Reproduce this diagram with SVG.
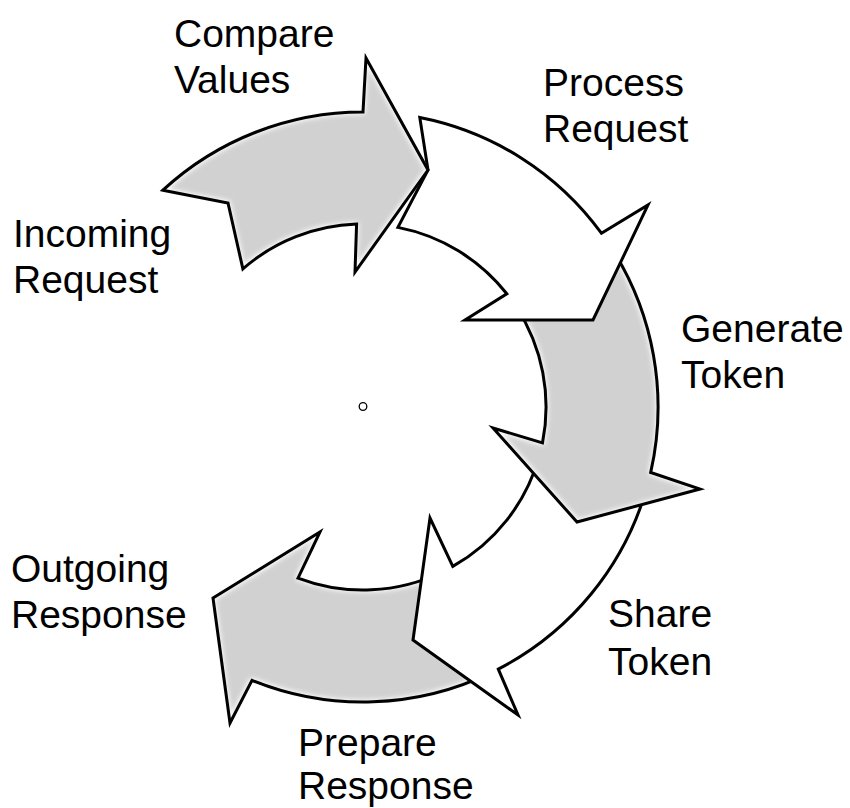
<svg xmlns="http://www.w3.org/2000/svg" xmlns:xlink="http://www.w3.org/1999/xlink" width="850" height="808" viewBox="0 0 850 808">
<style>
  .lbl { font-family: "Liberation Sans", Arial, sans-serif; font-size: 39px; fill: #000; }
  .outline { fill: none; stroke: #000; stroke-width: 3; stroke-linejoin: miter; stroke-miterlimit: 10; }
  .gray { fill: #d1d1d1; filter: url(#glow); }
  .white { fill: #ffffff; }
</style>
<defs>
  <filter id="glow" x="-3%" y="-3%" width="106%" height="106%" color-interpolation-filters="sRGB">
    <feMorphology in="SourceAlpha" operator="erode" radius="2" result="er"/>
    <feGaussianBlur in="er" stdDeviation="2.5" result="bl"/>
    <feFlood flood-color="#d1d1d1" result="gc"/>
    <feComposite in="gc" in2="bl" operator="in" result="core"/>
    <feFlood flood-color="#ffffff" result="wc"/>
    <feComposite in="wc" in2="SourceAlpha" operator="in" result="base"/>
    <feMerge><feMergeNode in="base"/><feMergeNode in="core"/></feMerge>
  </filter>
  <path id="p5" d="M 492.3,672.1 L 445,632.5 L 443.2,571.5 A 183 183 0 0 1 298,578.1 L 320,532 L 213,598 L 230,723 L 252,680.3 A 295 295 0 0 0 492.3,672.1 Z"/>
  <path id="p4" d="M 646.6,488.3 L 585.5,496.9 L 538.9,457.4 A 183 183 0 0 1 452.8,566.4 L 430,518 L 413,640 L 518,715 L 498.3,669.1 A 295 295 0 0 0 646.6,488.3 Z"/>
  <path id="p3" d="M 610.4,246.3 L 575,305 L 516.5,307.3 A 183 183 0 0 1 542.5,442.9 L 493,428 L 577,522 L 700,489 L 650.7,472.4 A 295 295 0 0 0 610.4,246.3 Z"/>
  <path id="p2" d="M 419.8,117.5 L 428,170 L 397.9,227.4 A 183 183 0 0 1 506.8,293.8 L 465,320 L 593,320 L 648,205 L 601.4,233.2 A 295 295 0 0 0 419.8,117.5 Z"/>
  <path id="p1" d="M 162.9,190.2 L 228,203 L 242.9,268.9 A 183 183 0 0 1 356.6,224.1 L 355,272 L 428,170 L 366,58 L 363,112 A 295 295 0 0 0 162.9,190.2 Z"/>
</defs>

<g id="arrow-prepare-response">
  <use xlink:href="#p5" href="#p5" class="gray"/>
  <use xlink:href="#p5" href="#p5" class="outline"/>
</g>
<g id="arrow-share-token">
  <use xlink:href="#p4" href="#p4" class="white"/>
  <use xlink:href="#p4" href="#p4" class="outline"/>
</g>
<g id="arrow-generate-token">
  <use xlink:href="#p3" href="#p3" class="gray"/>
  <use xlink:href="#p3" href="#p3" class="outline"/>
</g>
<g id="arrow-process-request">
  <use xlink:href="#p2" href="#p2" class="white"/>
  <use xlink:href="#p2" href="#p2" class="outline"/>
</g>
<g id="arrow-compare-values">
  <use xlink:href="#p1" href="#p1" class="gray"/>
  <use xlink:href="#p1" href="#p1" class="outline"/>
</g>

<g id="center">
  <circle cx="363" cy="406.5" r="3.8" fill="#fff" stroke="#000" stroke-width="1.3"/>
</g>

<g id="label-compare-values">
  <text class="lbl" x="174" y="47">Compare</text>
  <text class="lbl" x="174" y="93">Values</text>
</g>
<g id="label-process-request">
  <text class="lbl" x="543" y="96">Process</text>
  <text class="lbl" x="543" y="142">Request</text>
</g>
<g id="label-incoming-request">
  <text class="lbl" x="13" y="247">Incoming</text>
  <text class="lbl" x="13" y="293">Request</text>
</g>
<g id="label-generate-token">
  <text class="lbl" x="681" y="342">Generate</text>
  <text class="lbl" x="681" y="388">Token</text>
</g>
<g id="label-outgoing-response">
  <text class="lbl" x="11" y="582">Outgoing</text>
  <text class="lbl" x="11" y="628">Response</text>
</g>
<g id="label-share-token">
  <text class="lbl" x="608" y="627">Share</text>
  <text class="lbl" x="608" y="675">Token</text>
</g>
<g id="label-prepare-response">
  <text class="lbl" x="298" y="756">Prepare</text>
  <text class="lbl" x="298" y="799">Response</text>
</g>
</svg>
